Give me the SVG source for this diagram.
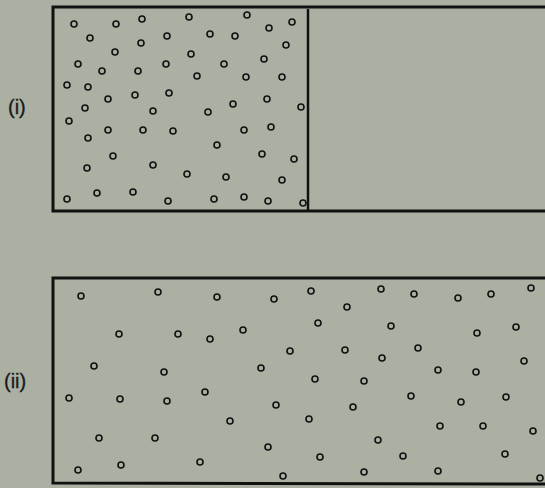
<svg xmlns="http://www.w3.org/2000/svg" width="545" height="488" viewBox="0 0 545 488">
<style>
.box{fill:none;stroke:#111;stroke-width:3}
.div{stroke:#111;stroke-width:2.5}
.p{fill:none;stroke:#111;stroke-width:1.6}
.lbl{font-family:"Liberation Sans",Arial,sans-serif;font-size:20px;fill:#1a1a1a;stroke:#1a1a1a;stroke-width:0.3}
</style>
<defs><circle id="m" r="3" class="p"/></defs>
<rect x="0" y="0" width="545" height="488" fill="#abb0a3"/>
<g id="label-i"><text class="lbl" x="8" y="114">(i)</text></g>
<g id="label-ii"><text class="lbl" x="4" y="388">(ii)</text></g>
<g id="container-i">
<path class="box" d="M548,7 L53,7 L53,211 L548,211"/>
<line class="div" x1="308" y1="9" x2="308" y2="210"/>
</g>
<g id="container-ii">
<path class="box" d="M548,278 L53,278 L53,483 L548,484"/>
</g>
<g id="particles-i">
<use href="#m" x="74" y="24"/><use href="#m" x="116" y="24"/><use href="#m" x="142" y="19"/><use href="#m" x="189" y="17"/><use href="#m" x="247" y="15"/><use href="#m" x="269" y="28"/><use href="#m" x="292" y="22"/>
<use href="#m" x="90" y="38"/><use href="#m" x="141" y="43"/><use href="#m" x="167" y="36"/><use href="#m" x="210" y="34"/><use href="#m" x="235" y="36"/><use href="#m" x="286" y="45"/>
<use href="#m" x="115" y="52"/><use href="#m" x="191" y="54"/><use href="#m" x="78" y="64"/><use href="#m" x="102" y="71"/><use href="#m" x="138" y="71"/><use href="#m" x="166" y="64"/><use href="#m" x="224" y="64"/><use href="#m" x="264" y="59"/>
<use href="#m" x="197" y="76"/><use href="#m" x="246" y="77"/><use href="#m" x="282" y="77"/>
<use href="#m" x="67" y="85"/><use href="#m" x="88" y="87"/><use href="#m" x="108" y="99"/><use href="#m" x="135" y="95"/><use href="#m" x="169" y="93"/><use href="#m" x="233" y="104"/><use href="#m" x="267" y="99"/><use href="#m" x="301" y="107"/>
<use href="#m" x="85" y="108"/><use href="#m" x="153" y="111"/><use href="#m" x="208" y="112"/>
<use href="#m" x="69" y="121"/><use href="#m" x="108" y="130"/><use href="#m" x="143" y="130"/><use href="#m" x="173" y="131"/><use href="#m" x="88" y="138"/><use href="#m" x="244" y="130"/><use href="#m" x="271" y="127"/>
<use href="#m" x="217" y="145"/><use href="#m" x="113" y="156"/><use href="#m" x="262" y="154"/><use href="#m" x="294" y="159"/>
<use href="#m" x="87" y="168"/><use href="#m" x="153" y="165"/><use href="#m" x="187" y="174"/><use href="#m" x="226" y="177"/><use href="#m" x="282" y="180"/>
<use href="#m" x="67" y="199"/><use href="#m" x="97" y="193"/><use href="#m" x="133" y="192"/><use href="#m" x="168" y="201"/><use href="#m" x="214" y="199"/><use href="#m" x="244" y="197"/><use href="#m" x="268" y="201"/><use href="#m" x="303" y="203"/>
</g>
<g id="particles-ii">
<use href="#m" x="81" y="296"/><use href="#m" x="158" y="292"/><use href="#m" x="217" y="297"/><use href="#m" x="274" y="299"/><use href="#m" x="311" y="291"/><use href="#m" x="347" y="307"/><use href="#m" x="381" y="289"/><use href="#m" x="414" y="294"/><use href="#m" x="458" y="298"/><use href="#m" x="491" y="294"/><use href="#m" x="531" y="288"/>
<use href="#m" x="119" y="334"/><use href="#m" x="178" y="334"/><use href="#m" x="210" y="339"/><use href="#m" x="243" y="330"/><use href="#m" x="318" y="323"/><use href="#m" x="391" y="326"/><use href="#m" x="477" y="333"/><use href="#m" x="516" y="327"/>
<use href="#m" x="94" y="366"/><use href="#m" x="164" y="372"/><use href="#m" x="261" y="368"/><use href="#m" x="290" y="351"/><use href="#m" x="345" y="350"/><use href="#m" x="382" y="358"/><use href="#m" x="418" y="348"/><use href="#m" x="524" y="361"/><use href="#m" x="438" y="370"/><use href="#m" x="476" y="372"/>
<use href="#m" x="315" y="379"/><use href="#m" x="364" y="381"/>
<use href="#m" x="69" y="398"/><use href="#m" x="120" y="399"/><use href="#m" x="167" y="401"/><use href="#m" x="205" y="392"/><use href="#m" x="276" y="405"/><use href="#m" x="353" y="407"/><use href="#m" x="411" y="396"/><use href="#m" x="461" y="402"/><use href="#m" x="506" y="397"/>
<use href="#m" x="230" y="421"/><use href="#m" x="309" y="419"/><use href="#m" x="440" y="426"/><use href="#m" x="483" y="426"/><use href="#m" x="533" y="431"/>
<use href="#m" x="99" y="438"/><use href="#m" x="155" y="438"/><use href="#m" x="378" y="440"/><use href="#m" x="268" y="447"/>
<use href="#m" x="320" y="457"/><use href="#m" x="403" y="456"/><use href="#m" x="505" y="454"/>
<use href="#m" x="78" y="470"/><use href="#m" x="121" y="465"/><use href="#m" x="200" y="462"/><use href="#m" x="283" y="476"/><use href="#m" x="364" y="472"/><use href="#m" x="438" y="471"/><use href="#m" x="540" y="478"/>
</g>
</svg>
